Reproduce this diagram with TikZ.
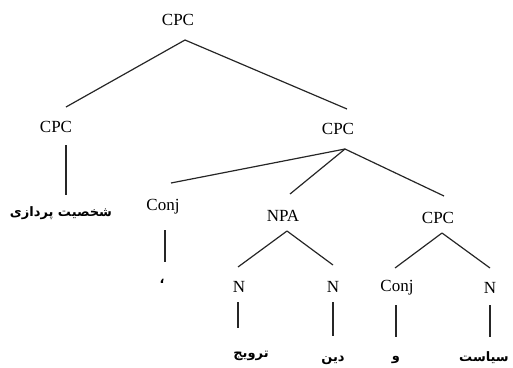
\documentclass[tikz,border=0pt]{standalone}
\usepackage{fontspec}
\setmainfont{Liberation Serif}
\newfontfamily\arabicfont[Script=Arabic]{DejaVu Sans}
\TeXXeTstate=1
\begin{document}
\begin{tikzpicture}[x=1pt,y=-1pt,
  lbl/.style={inner sep=0pt,font=\fontsize{17}{19}\selectfont},
  fa/.style={inner sep=0pt,font=\arabicfont\bfseries\fontsize{13}{15}\selectfont},
  edge/.style={line width=1.2pt,black!85}]
\useasboundingbox (0,0) rectangle (513,367);
% category labels
\node[lbl] (top)   at (178,20)  {CPC};
\node[lbl] (lcpc)  at (56,127)  {CPC};
\node[lbl] (rcpc)  at (338,129) {CPC};
\node[lbl] (conja) at (163,207) {Conj};
\node[lbl] (npa)   at (283,216) {NPA};
\node[lbl] (cpcc)  at (438,218) {CPC};
\node[lbl] (na)    at (239,287) {N};
\node[lbl] (nb)    at (333,287) {N};
\node[lbl] (conjb) at (397,288) {Conj};
\node[lbl] (nc)    at (490,288) {N};
% words
\node[fa] (wa) at (61,213)  {\beginR شخصیت پردازی\endR};
\node[fa] (comma) at (162,281) {\beginR ،\endR};
\node[fa] (wb) at (251,356) {\beginR ترویج\endR};
\node[fa] (wc) at (333,360) {\beginR دین\endR};
\node[fa] (wd) at (396,360) {\beginR و\endR};
\node[fa] (we) at (484,358) {\beginR سیاست\endR};
% connectors
\draw[edge] ([shift={(7,20)}]top.center) -- ([shift={(10,-20)}]lcpc.center);
\draw[edge] ([shift={(7,20)}]top.center) -- ([shift={(9,-20)}]rcpc.center);
\draw[edge] ([shift={(10,18)}]lcpc.center) -- ([shift={(5,-18)}]wa.center);
\draw[edge] ([shift={(7,20)}]rcpc.center) -- ([shift={(8,-24)}]conja.center);
\draw[edge] ([shift={(7,20)}]rcpc.center) -- ([shift={(7,-22)}]npa.center);
\draw[edge] ([shift={(7,20)}]rcpc.center) -- ([shift={(6,-22)}]cpcc.center);
\draw[edge] ([shift={(2,23)}]conja.center) -- ([shift={(3,-19)}]comma.center);
\draw[edge] ([shift={(4,15)}]npa.center) -- ([shift={(-1,-20)}]na.center);
\draw[edge] ([shift={(4,15)}]npa.center) -- ([shift={(0,-22)}]nb.center);
\draw[edge] ([shift={(4,15)}]cpcc.center) -- ([shift={(-2,-20)}]conjb.center);
\draw[edge] ([shift={(4,15)}]cpcc.center) -- ([shift={(0,-20)}]nc.center);
\draw[edge] ([shift={(-1,15)}]na.center) -- ([shift={(-13,-28)}]wb.center);
\draw[edge] ([shift={(0,15)}]nb.center) -- ([shift={(0,-24)}]wc.center);
\draw[edge] ([shift={(-1,17)}]conjb.center) -- ([shift={(0,-23)}]wd.center);
\draw[edge] ([shift={(0,17)}]nc.center) -- ([shift={(6,-21)}]we.center);
\end{tikzpicture}
\end{document}
